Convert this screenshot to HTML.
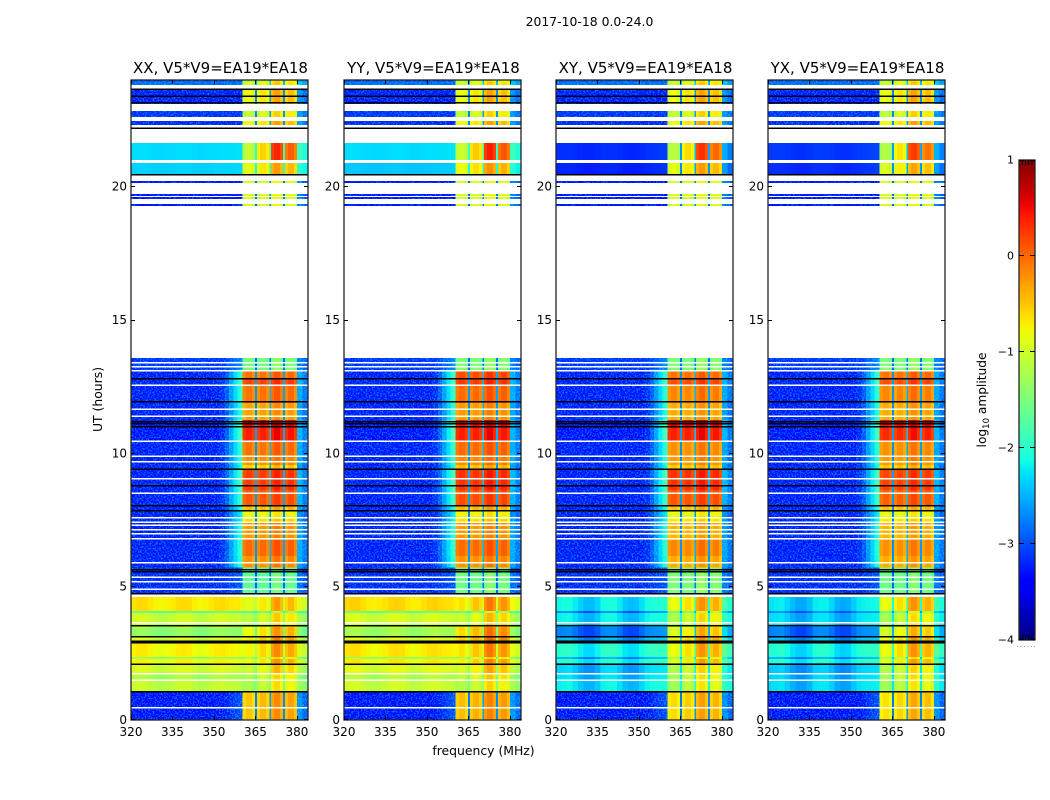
<!DOCTYPE html>
<html lang="en">
<head>
<meta charset="utf-8">
<title>2017-10-18 0.0-24.0</title>
<style>
html,body{margin:0;padding:0;background:#fff;}
#figure{display:block;width:1050px;height:800px;font-family:"DejaVu Sans","Liberation Sans",sans-serif;fill:#000;}
.cell{shape-rendering:crispEdges;}
.speckle{mix-blend-mode:screen;pointer-events:none;}
</style>
</head>
<body>
<svg id="figure" xmlns="http://www.w3.org/2000/svg" width="1050" height="800" viewBox="0 0 1050 800">
  <defs>
    <linearGradient id="jet-gradient" x1="0" y1="1" x2="0" y2="0"></linearGradient>
    <filter id="speckle-noise" filterUnits="userSpaceOnUse" x="120" y="70" width="840" height="660" color-interpolation-filters="sRGB">
      <feTurbulence type="fractalNoise" baseFrequency="0.62" numOctaves="2" seed="7"/>
      <feColorMatrix type="matrix" values="0 0 0 0 0  0 0 0 0 0.42  0 0 0 0 0.6  6 0 0 0 -2.9"/>
      <feComposite in2="SourceAlpha" operator="in"/>
    </filter>
  </defs>
  <text x="589.5" y="26" font-size="12.4" text-anchor="middle">2017-10-18 0.0-24.0</text>
  <g id="panels"></g>
  <text x="483.5" y="755" font-size="12.4" text-anchor="middle">frequency (MHz)</text>
  <text transform="translate(102,399.5) rotate(-90)" font-size="12.4" text-anchor="middle">UT (hours)</text>
  <g id="colorbar"></g>
  <text transform="translate(986,400) rotate(-90)" font-size="12.2" text-anchor="middle">log<tspan font-size="8.5" dy="3">10</tspan><tspan dy="-3"> amplitude</tspan></text>
</svg>
<script>
// Hour boundaries of each time row
const rowEdges = [0,1.03,1.44,1.74,2.12,2.27,2.34,2.87,3.13,3.47,3.66,3.99,4.07,4.59,4.71,5.7,6.13,6.73,7.37,7.52,7.82,8.04,8.61,9.36,9.54,9.88,10.44,11.01,11.23,11.87,12.54,12.77,13.07,13.56,19.26,19.33,19.52,19.59,19.63,19.71,20.12,20.19,20.42,20.87,20.98,21.62,22.29,22.44,22.59,22.82,23.08,23.64,23.79,23.9,24];

// log10 amplitude outside the band, per row; null = no data (white)
const lowXX = [-3.35,-1.1,-1.25,-1.0,-.8,-1.4,-.78,-1.0,-1.4,-1.1,-1.05,-1.7,-.7,null,-3.25,-3.3,-3.3,-3.3,-3.3,-3.3,-3.3,-3.3,-3.3,-3.3,-3.3,-3.3,-3.35,-3.35,-3.3,-3.3,-3.3,-3.3,-3.2,null,-3.35,null,-3.35,null,-3.35,null,-3.35,null,-2.35,null,-2.3,null,-3.25,null,-3.2,null,-3.3,null,-2.9,-3.0];
const lowYY = [-3.35,-1.05,-1.2,-.95,-.75,-1.35,-.72,-.95,-1.3,-1.05,-1.0,-1.65,-.65,null,-3.25,-3.3,-3.3,-3.3,-3.3,-3.3,-3.3,-3.3,-3.3,-3.3,-3.3,-3.3,-3.35,-3.35,-3.3,-3.3,-3.3,-3.3,-3.2,null,-3.35,null,-3.35,null,-3.35,null,-3.35,null,-2.4,null,-2.3,null,-3.25,null,-3.2,null,-3.3,null,-2.9,-3.0];
const lowXY = [-3.35,-2.2,-2.3,-2.35,-2.0,-2.5,-2.0,-2.5,-2.75,-2.3,-2.2,-2.7,-2.15,null,-3.25,-3.3,-3.3,-3.3,-3.3,-3.3,-3.3,-3.3,-3.3,-3.3,-3.3,-3.3,-3.35,-3.35,-3.3,-3.3,-3.3,-3.3,-3.2,null,-3.35,null,-3.35,null,-3.35,null,-3.35,null,-3.2,null,-3.15,null,-3.25,null,-3.2,null,-3.3,null,-2.9,-3.0];
const lowYX = [-3.35,-2.3,-2.35,-2.4,-2.0,-2.5,-2.05,-2.5,-2.75,-2.35,-2.3,-2.7,-2.25,null,-3.25,-3.3,-3.3,-3.3,-3.3,-3.3,-3.3,-3.3,-3.3,-3.3,-3.3,-3.3,-3.35,-3.35,-3.3,-3.3,-3.3,-3.3,-3.2,null,-3.35,null,-3.35,null,-3.35,null,-3.35,null,-3.15,null,-3.1,null,-3.25,null,-3.2,null,-3.3,null,-2.9,-3.0];

// log10 amplitude inside the 360-380 MHz band, per row
const bandXX = [-.35,-.9,-.85,-.7,-.5,-.9,-.45,-.4,-.5,-.85,-.8,-1.4,-.55,null,-1.6,-.15,.05,-.2,-.55,-.75,-.4,.15,.3,-.5,-.15,0,.45,.6,-.25,0,.25,0,-1.45,null,-.85,null,-.85,null,-.85,null,-.85,null,-.55,null,-.3,null,-.55,null,-.8,null,-.55,null,-.75,-.85];
const bandYY = [-.3,-.85,-.75,-.6,-.4,-.85,-.35,-.25,-.3,-.7,-.7,-1.3,-.35,null,-1.5,-.15,.05,-.2,-.55,-.7,-.35,.2,.35,-.4,-.1,.05,.45,.55,-.2,.05,.3,.2,-1.4,null,-.85,null,-.85,null,-.85,null,-.85,null,-.5,null,-.25,null,-.55,null,-.8,null,-.55,null,-.75,-.85];
const bandXY = [-.45,-.95,-.9,-.85,-.55,-.95,-.5,-.45,-.6,-.85,-.85,-1.3,-.5,null,-1.4,-.3,-.1,-.35,-.6,-.75,-.4,.15,.35,-.45,-.2,-.15,.45,.6,-.3,-.1,.2,0,-1.4,null,-.85,null,-.85,null,-.85,null,-.85,null,-.55,null,-.35,null,-.55,null,-.8,null,-.55,null,-.75,-.85];
const bandYX = [-.5,-.95,-.9,-.85,-.55,-.95,-.5,-.5,-.65,-.9,-.9,-1.3,-.5,null,-1.5,-.3,-.15,-.35,-.6,-.75,-.4,.1,.25,-.45,-.2,-.15,.4,.55,-.3,-.1,.2,0,-1.4,null,-.85,null,-.85,null,-.85,null,-.85,null,-.6,null,-.4,null,-.55,null,-.8,null,-.55,null,-.75,-.85];

// How strongly each row shows the band skirt, sky ripple and band tilt
const rowRamp = [.25,.08,.08,.08,.08,.08,.08,.08,.08,.08,.08,.08,.08,0,.3,1,1,1,1,1,1,1,1,1,1,1,1,1,1,1,1,1,.6,0,0,0,0,0,0,0,0,0,.05,0,.05,0,0,0,0,0,0,0,0,0];
const rowRipple = [0,1,1,1,1,1,1,1,1,1,1,1,1,0,0,0,0,0,0,0,0,0,0,0,0,0,0,0,0,0,0,0,0,0,0,0,0,0,0,0,0,0,.15,0,.15,0,0,0,0,0,0,0,0,0];
const rowTilt = [.1,.25,.25,.25,.25,.25,.25,.25,.25,.25,.25,.25,.25,0,0,0,0,0,0,0,0,0,0,0,0,0,0,0,0,0,0,0,0,0,0,0,0,0,0,0,0,0,.25,0,.7,0,.2,0,.2,0,.2,0,.2,.2];

// Frequency channel boundaries (MHz)
const channelEdges = [320,322,324,326,328,330,332,334,336,338,340,342,344,346,348,350,352,354,355.5,357,358.5,359.5,360.4,361.5,362.6,363.7,364.8,365.5,366.6,367.7,368.8,370,370.6,371.7,372.8,373.9,375,375.6,376.7,377.8,378.9,380,382,384];
// Per-channel response
const channelWeight = [0,0,0,0,0,0,0,0,0,0,0,0,0,0,0,0,0,0,0,0,0,0,1,1,1,1,.2,1,1,1,1,.25,1,1,1,1,.22,1,1,1,1,.22,.14];
const channelRamp = [0,0,0,0,0,0,0,0,0,0,0,0,0,0,0,0,.03,.1,.2,.3,.38,.42,0,0,0,0,0,0,0,0,0,0,0,0,0,0,0,0,0,0,0,0,0];
const channelOffset = [0,0,0,0,0,0,0,0,0,0,0,0,0,0,0,0,0,0,0,0,0,0,-.15,-.05,-.05,-.2,0,-.2,-.05,-.05,-.2,0,-.05,.1,.1,-.1,0,-.15,0,0,-.2,0,0];
const channelTilt = [0,0,0,0,0,0,0,0,0,0,0,0,0,0,0,0,0,0,0,0,0,0,-1,-1,-1,-1,0,-.3,-.3,-.3,-.3,0,.8,.8,.8,.8,0,.5,.5,.5,.5,0,0];
const rippleParallel = [.05,.1,.1,.02,-.05,-.08,-.05,0,.08,.1,.08,-.02,-.08,-.05,.02,.08,.1,.05,.02,0,0,-.05,0,0,0,0,-.4,0,0,0,0,-.4,0,0,0,0,-.4,0,0,0,0,-.2,-.35];
const rippleCross = [0,.03,.06,-.06,-.2,-.3,-.3,-.18,.03,.06,.06,-.06,-.24,-.3,-.27,-.12,.03,.06,.06,.06,.06,.06,0,0,0,0,-.2,0,0,0,0,-.2,0,0,0,0,-.2,0,0,0,0,0,-.1];

// Thin flagged lines (hours)
const whiteLines = [.45,1.48,1.71,2.89,3.51,3.63,4.89,5.16,5.33,5.87,6.77,6.96,7.11,7.29,7.39,7.56,8.49,9.02,9.66,9.88,10.44,11.38,11.64,12.54,13.07,13.22,13.37];
const blackLines = [1.05,2.08,2.87,2.93,3.1,3.51,4.72,5.55,5.62,7.82,8.02,8.76,9.39,10.97,11.1,11.17,11.91,12.77,20.42,22.18,23.12,23.38,23.64];

const panelTitles = ["XX, V5*V9=EA19*EA18","YY, V5*V9=EA19*EA18","XY, V5*V9=EA19*EA18","YX, V5*V9=EA19*EA18"];
const panelKeys = ["xx","yy","xy","yx"];
const panelLeft = [131,344,556,768];
const panelLow = [lowXX,lowYY,lowXY,lowYX];
const panelBand = [bandXX,bandYY,bandXY,bandYX];
const panelRipple = [rippleParallel,rippleParallel,rippleCross,rippleCross];

const xTicks = [320,335,350,365,380];
const yTicks = [0,5,10,15,20];
const colorbarTicks = [1,0,-1,-2,-3,-4];
const colorbarTickLabels = ["1","0","\u22121","\u22122","\u22123","\u22124"];

const NS = "http://www.w3.org/2000/svg";
const panelWidth = 177, axisTop = 79.5, axisBottom = 719.5;
function xPos(freq, left){ return left + (freq - 320) / (384 - 320) * panelWidth; }
function yPos(hour){ return axisBottom - hour / 24 * (axisBottom - axisTop); }
function seg(points, t){
  for (let i = 1; i < points.length; i++) {
    if (t <= points[i][0]) {
      const a = points[i-1], b = points[i];
      return a[1] + (b[1]-a[1]) * (t-a[0]) / (b[0]-a[0]);
    }
  }
  return points[points.length-1][1];
}
const jetR = [[0,0],[.35,0],[.66,1],[.89,1],[1,.5]];
const jetG = [[0,0],[.125,0],[.375,1],[.64,1],[.91,0],[1,0]];
const jetB = [[0,.5],[.11,1],[.34,1],[.65,0],[1,0]];
function jet(value){
  const t = Math.max(0, Math.min(1, (value + 4) / 5));
  const c = p => Math.round(seg(p, t) * 255);
  return "rgb(" + c(jetR) + "," + c(jetG) + "," + c(jetB) + ")";
}
function make(tag, attrs, parent){
  const el = document.createElementNS(NS, tag);
  for (const k in attrs) el.setAttribute(k, attrs[k]);
  parent.appendChild(el);
  return el;
}

const panelsRoot = document.getElementById("panels");
panelTitles.forEach(function(title, p){
  const left = panelLeft[p];
  const group = make("g", {}, panelsRoot);
  
  

  const heat = make("g", {}, group);
  
  
  for (let r = 0; r < rowEdges.length - 1; r++) {
    const low = panelLow[p][r], band = panelBand[p][r];
    if (low === null) continue;
    const yTop = yPos(rowEdges[r+1]), yBot = yPos(rowEdges[r]);
    for (let c = 0; c < channelEdges.length - 1; c++) {
      const w = channelWeight[c] + channelRamp[c] * rowRamp[r];
      const value = low + w * (band - low) + channelOffset[c] + channelTilt[c] * rowTilt[r] + panelRipple[p][c] * rowRipple[r];
      const x0 = xPos(channelEdges[c], left), x1 = xPos(channelEdges[c+1], left);
      const cell = make("rect", {class:"cell", x:x0, y:yTop, width:x1-x0, height:yBot-yTop, fill:jet(value)}, heat);
      
      
    }
    if (rowRipple[r] === 0) {
      const x0 = xPos(320, left), x1 = xPos(360.4, left), x2 = xPos(380, left), x3 = xPos(384, left);
      const speckleLeft = make("rect", {class:"speckle", x:x0, y:yTop, width:x1-x0, height:yBot-yTop, filter:"url(#speckle-noise)"}, group);
      
      
      const speckleRight = make("rect", {class:"speckle", x:x2, y:yTop, width:x3-x2, height:yBot-yTop, filter:"url(#speckle-noise)"}, group);
      
      
    }
  }

  whiteLines.forEach(function(h){
    const line = make("rect", {class:"cell", x:left, y:yPos(h)-0.75, width:panelWidth, height:1.5, fill:"#fff"}, group);
    
    
  });
  blackLines.forEach(function(h){
    const line = make("rect", {class:"cell", x:left, y:yPos(h)-0.75, width:panelWidth, height:1.5, fill:"#000"}, group);
    
    
  });

  const frame = make("rect", {x:left, y:axisTop+0.5, width:panelWidth, height:axisBottom-axisTop, fill:"none", stroke:"#222", "stroke-width":1.3}, group);
  
  

  xTicks.forEach(function(v){
    const x = Math.round(xPos(v, left)) + 0.5;
    const tickB = make("line", {x1:x, x2:x, y1:axisBottom+0.5, y2:axisBottom-3.5, stroke:"#000"}, group);
    
    
    const tickT = make("line", {x1:x, x2:x, y1:axisTop+0.5, y2:axisTop+4.5, stroke:"#000"}, group);
    
    
    const label = make("text", {x:xPos(v, left), y:736, "font-size":12, "text-anchor":"middle"}, group);
    label.textContent = v;
    
    
  });
  yTicks.forEach(function(v){
    const y = Math.round(yPos(v)) + (v === 0 ? -0.5 : 0.5);
    const tickL = make("line", {x1:left, x2:left+4, y1:y, y2:y, stroke:"#000"}, group);
    
    
    const tickR = make("line", {x1:left+panelWidth, x2:left+panelWidth-4, y1:y, y2:y, stroke:"#000"}, group);
    
    
    const label = make("text", {x:left-4, y:yPos(v)+4.5, "font-size":12, "text-anchor":"end"}, group);
    label.textContent = v;
    
    
  });
  const heading = make("text", {x:left+panelWidth/2+1, y:73, "font-size":15, "text-anchor":"middle"}, group);
  heading.textContent = title;
  
  
});

// Colorbar
const cbRoot = document.getElementById("colorbar");
const cbLeft = 1019, cbWidth = 16, cbTop = 160, cbBottom = 640;
function cbY(v){ return cbBottom - (v + 4) / 5 * (cbBottom - cbTop); }
const gradient = document.getElementById("jet-gradient");
for (let i = 0; i <= 40; i++) {
  const stop = make("stop", {offset:(i / 40), "stop-color":jet(-4 + i / 8)}, gradient);
}
const cbRect = make("rect", {x:cbLeft, y:cbTop, width:cbWidth, height:cbBottom-cbTop, fill:"url(#jet-gradient)", stroke:"#222", "stroke-width":1.3}, cbRoot);


colorbarTicks.forEach(function(v, i){
  const y = Math.round(cbY(v)) - (v === -4 ? 0.5 : v === 1 ? -0.5 : 0.5);
  const tl = make("line", {x1:cbLeft, x2:cbLeft+5, y1:y, y2:y, stroke:"#000"}, cbRoot);
  
  
  const tr = make("line", {x1:cbLeft+cbWidth, x2:cbLeft+cbWidth-5, y1:y, y2:y, stroke:"#000"}, cbRoot);
  
  
  const label = make("text", {x:cbLeft-5, y:cbY(v)+3.5, "font-size":11, "text-anchor":"end"}, cbRoot);
  label.textContent = colorbarTickLabels[i];
  
  
});
[1022,1025,1028,1031.5].forEach(function(x){
  const top = make("line", {x1:x+.5, x2:x+.5, y1:cbTop, y2:cbTop+5, stroke:"#000"}, cbRoot);
  
  
  const bottom = make("line", {x1:x+.5, x2:x+.5, y1:cbBottom, y2:cbBottom-5, stroke:"#000"}, cbRoot);
  
  
});
[1017,1020.5,1024,1027.5,1031,1034].forEach(function(x){
  const dot = make("rect", {x:x, y:646, width:1, height:1, fill:"#999"}, cbRoot);
  
  
});
</script>
</body>
</html>
